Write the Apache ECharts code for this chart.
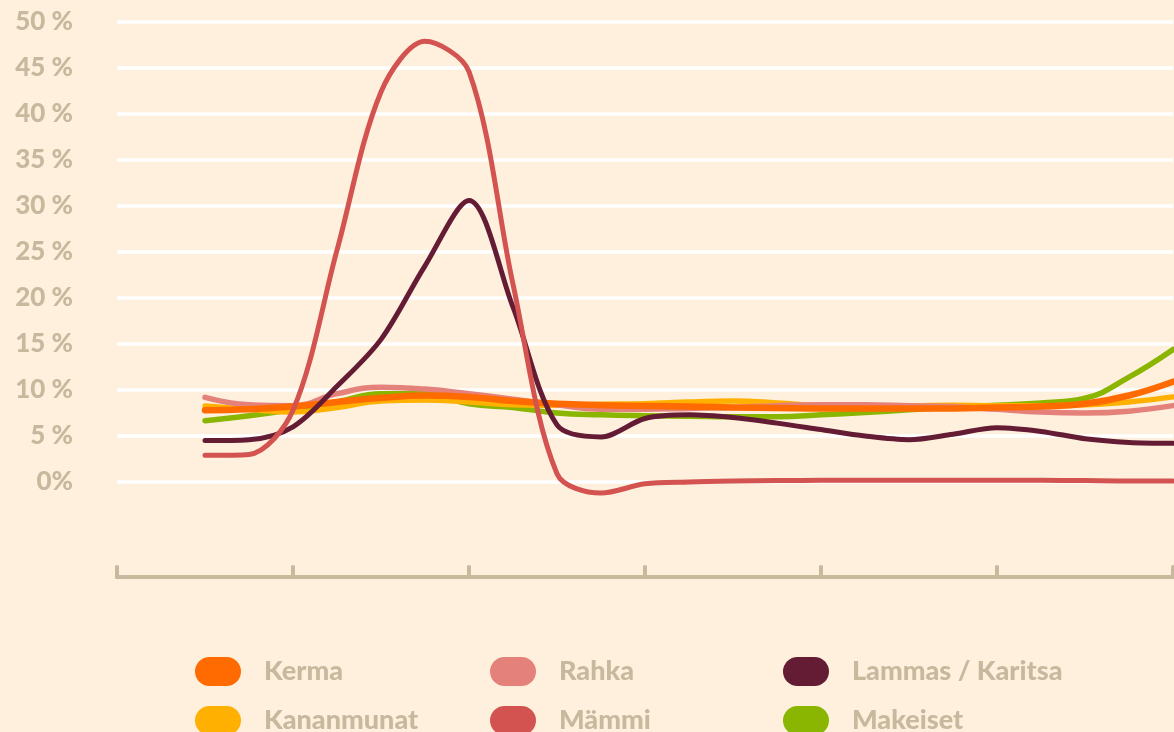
<!DOCTYPE html>
<html>
<head>
<meta charset="utf-8">
<script src="https://cdn.jsdelivr.net/npm/echarts@6/dist/echarts.min.js"></script>
<style>
  html, body { margin: 0; padding: 0; background: #fef0dd; }
  #chart { width: 1174px; height: 732px; }
</style>
</head>
<body>
<div id="chart"></div>
<script>
// Sample positions: index i sits at x = 2 + i on a 0..24 axis (ticks every 4)
const xStart = 2;
const xTicksMax = 24;
const yTickStep = 5;

const kerma      = [7.8, 7.9, 8.2, 8.7, 9.15, 9.4, 9.25, 8.8, 8.5, 8.35, 8.25, 8.2, 8.1, 8.05, 8.0, 8.0, 8.0, 8.0, 8.1, 8.2, 8.5, 9.4, 10.9];
const rahka      = [9.2, 8.4, 8.3, 9.6, 10.3, 10.1, 9.6, 9.0, 8.4, 7.9, 7.9, 8.0, 8.1, 8.3, 8.4, 8.4, 8.3, 8.2, 7.9, 7.6, 7.5, 7.7, 8.3];
const lammas     = [4.5, 4.6, 6.0, 10.4, 15.5, 23.5, 30.6, 19.0, 6.2, 4.9, 6.9, 7.3, 7.0, 6.4, 5.7, 5.0, 4.6, 5.2, 5.9, 5.5, 4.7, 4.3, 4.2];
const kananmunat = [8.25, 7.9, 7.6, 8.1, 8.8, 8.9, 8.7, 8.4, 8.35, 8.45, 8.5, 8.7, 8.8, 8.6, 8.3, 8.3, 8.3, 8.35, 8.3, 8.3, 8.4, 8.7, 9.25];
const mammi      = [2.9, 3.0, 7.8, 25.2, 42.4, 47.9, 44.6, 21.5, 0.9, -1.2, -0.2, 0.0, 0.1, 0.15, 0.2, 0.2, 0.2, 0.2, 0.2, 0.2, 0.15, 0.1, 0.1];
const makeiset   = [6.65, 7.2, 7.9, 8.7, 9.6, 9.6, 8.5, 8.1, 7.5, 7.3, 7.2, 7.15, 7.1, 7.1, 7.3, 7.55, 7.85, 8.1, 8.35, 8.6, 9.1, 11.4, 14.4];

const names = {
  kerma: 'Kerma', rahka: 'Rahka', lammas: 'Lammas / Karitsa',
  kananmunat: 'Kananmunat', mammi: 'Mämmi', makeiset: 'Makeiset'
};
const colors = {
  kerma: '#ff6b00', rahka: '#e5817b', lammas: '#641c34',
  kananmunat: '#ffb000', mammi: '#d35350', makeiset: '#8ab500'
};

const textColor = '#c6b99e';
const font = '"Lato Black", Lato, "Open Sans", sans-serif';

function pts(arr) { return arr.map((v, i) => [xStart + i, v]); }
function mk(key, arr, width, smooth) {
  return {
    name: names[key], type: 'line', data: pts(arr), smooth: smooth,
    showSymbol: false, clip: false, silent: true,
    lineStyle: { color: colors[key], width: width, cap: 'round', join: 'round' },
    itemStyle: { color: colors[key] }
  };
}

const pill = 'path://M14.5,0 L31.5,0 A14.5,14.5 0 0 1 31.5,29 L14.5,29 A14.5,14.5 0 0 1 14.5,0 Z';
function legendItem(name, left, top) {
  return {
    data: [name], left: left, top: top, orient: 'horizontal', padding: 0,
    itemWidth: 46, itemHeight: 29, icon: pill,
    selectedMode: false,
    textStyle: { color: textColor, fontSize: 27, fontWeight: 900, fontFamily: font, padding: [0, 0, 0, 18] }
  };
}

const chart = echarts.init(document.getElementById('chart'), null, { renderer: 'canvas' });
chart.setOption({
  backgroundColor: '#fef0dd',
  animation: false,
  grid: { left: 117, right: 1, top: 22, bottom: 250, containLabel: false },
  xAxis: {
    type: 'value', min: 0, max: xTicksMax, interval: 4, offset: 95,
    axisLine: { show: true, onZero: false, lineStyle: { color: '#c8b99c', width: 4, cap: 'round' } },
    axisTick: { show: true, inside: true, length: 10, lineStyle: { color: '#c8b99c', width: 4, cap: 'round' } },
    axisLabel: { show: false },
    splitLine: { show: false }
  },
  yAxis: {
    type: 'value', min: 0, max: 50, interval: yTickStep,
    axisLine: { show: false }, axisTick: { show: false },
    axisLabel: {
      margin: 44, color: textColor, fontSize: 26, fontWeight: 900, fontFamily: font,
      formatter: v => v === 0 ? '0%' : v + ' %'
    },
    splitLine: { show: true, lineStyle: { color: '#ffffff', width: 3.5 } }
  },
  legend: [
    legendItem(names.kerma, 195, 657),
    legendItem(names.kananmunat, 195, 706),
    legendItem(names.rahka, 490, 657),
    legendItem(names.mammi, 490, 706),
    legendItem(names.lammas, 783, 657),
    legendItem(names.makeiset, 783, 706)
  ],
  series: [
    mk('makeiset', makeiset, 5.5, 0.45),
    mk('kananmunat', kananmunat, 5.5, 0.45),
    mk('rahka', rahka, 5.5, 0.45),
    mk('kerma', kerma, 6.5, 0.45),
    mk('lammas', lammas, 5, 0.32),
    mk('mammi', mammi, 5, 0.32)
  ]
});
</script>
</body>
</html>
